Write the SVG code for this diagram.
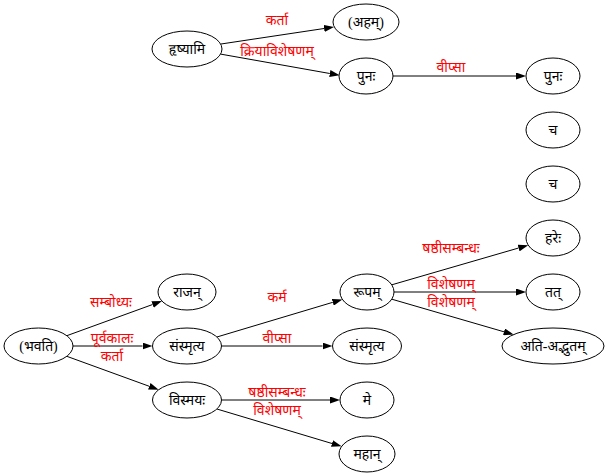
<svg xmlns="http://www.w3.org/2000/svg" width="608" height="476" viewBox="0 0 608 476">
<defs>
<marker id="ah" viewBox="0 0 10 7" refX="0" refY="3.5" markerWidth="10" markerHeight="7" markerUnits="userSpaceOnUse" orient="auto">
<path d="M0,0 L10,3.5 L0,7 z" fill="#000"/>
</marker>
<style>
.n ellipse{fill:#fff;stroke:#000;stroke-width:1}
.n text{font-family:'Liberation Serif','Noto Sans Devanagari','Noto Sans',sans-serif;font-size:14px;fill:#000;text-anchor:middle}
#edges line{stroke:#000;stroke-width:1;marker-end:url(#ah)}
#edges text{font-family:'Liberation Serif','Noto Sans Devanagari','Noto Sans',sans-serif;font-size:14px;fill:#f00;text-anchor:middle}
</style>
</defs>
<rect width="608" height="476" fill="#fff"/>
<g id="edges">
<line x1="221" y1="44" x2="324.1" y2="28.5"/>
<text x="277" y="25">कर्ता</text>
<line x1="220.6" y1="54.1" x2="329.8" y2="73.5"/>
<text x="277" y="56">क्रियाविशेषणम्</text>
<line x1="393" y1="76" x2="516" y2="76"/>
<text x="451" y="72">वीप्सा</text>
<line x1="66.8" y1="335.7" x2="152.6" y2="304.5"/>
<text x="111" y="307">सम्बोध्यः</text>
<line x1="73" y1="346" x2="142.5" y2="346"/>
<text x="112" y="343">पूर्वकालः</text>
<line x1="66.8" y1="356.3" x2="149.3" y2="386.3"/>
<text x="112" y="361">कर्ता</text>
<line x1="216.9" y1="337" x2="332.8" y2="302.3"/>
<text x="277" y="302">कर्म</text>
<line x1="221.5" y1="346" x2="322.5" y2="346"/>
<text x="277" y="343">वीप्सा</text>
<line x1="221.5" y1="400" x2="330" y2="400"/>
<text x="277" y="397">षष्ठीसम्बन्धः</text>
<line x1="216.9" y1="409" x2="332" y2="443.5"/>
<text x="277" y="415">विशेषणम्</text>
<line x1="391.8" y1="284.8" x2="518.6" y2="248"/>
<text x="451" y="253">षष्ठीसम्बन्धः</text>
<line x1="394" y1="292" x2="516" y2="292"/>
<text x="451" y="289">विशेषणम्</text>
<line x1="391.8" y1="299.2" x2="504" y2="331.8"/>
<text x="451" y="307">विशेषणम्</text>
</g>
<g id="n_hrishyami" class="n"><ellipse cx="187" cy="49" rx="35" ry="18"/><text x="187" y="54">हृष्यामि</text></g>
<g id="n_aham" class="n"><ellipse cx="366" cy="22" rx="33" ry="18"/><text x="366" y="27">(अहम्)</text></g>
<g id="n_punah1" class="n"><ellipse cx="366" cy="76" rx="27" ry="18"/><text x="366" y="81">पुनः</text></g>
<g id="n_punah2" class="n"><ellipse cx="553" cy="76" rx="27" ry="18"/><text x="553" y="81">पुनः</text></g>
<g id="n_cha1" class="n"><ellipse cx="553" cy="130" rx="27" ry="18"/><text x="553" y="135">च</text></g>
<g id="n_cha2" class="n"><ellipse cx="553" cy="184" rx="27" ry="18"/><text x="553" y="189">च</text></g>
<g id="n_hareh" class="n"><ellipse cx="553" cy="238" rx="27" ry="18"/><text x="553" y="243">हरेः</text></g>
<g id="n_tat" class="n"><ellipse cx="553" cy="292" rx="27" ry="18"/><text x="553" y="297">तत्</text></g>
<g id="n_atiadbhutam" class="n"><ellipse cx="553" cy="346" rx="51" ry="18"/><text x="553" y="351">अति-अद्भुतम्</text></g>
<g id="n_rupam" class="n"><ellipse cx="367" cy="292" rx="27" ry="18"/><text x="367" y="297">रूपम्</text></g>
<g id="n_samsmritya2" class="n"><ellipse cx="367" cy="346" rx="34.5" ry="18"/><text x="367" y="351">संस्मृत्य</text></g>
<g id="n_me" class="n"><ellipse cx="367" cy="400" rx="27" ry="18"/><text x="367" y="405">मे</text></g>
<g id="n_mahan" class="n"><ellipse cx="367" cy="454" rx="28" ry="18"/><text x="367" y="459">महान्</text></g>
<g id="n_bhavati" class="n"><ellipse cx="38.5" cy="346" rx="34.5" ry="18"/><text x="38.5" y="351">(भवति)</text></g>
<g id="n_rajan" class="n"><ellipse cx="187" cy="292" rx="29" ry="18"/><text x="187" y="297">राजन्</text></g>
<g id="n_samsmritya1" class="n"><ellipse cx="187" cy="346" rx="34.5" ry="18"/><text x="187" y="351">संस्मृत्य</text></g>
<g id="n_vismayah" class="n"><ellipse cx="187" cy="400" rx="34.5" ry="18"/><text x="187" y="405">विस्मयः</text></g>
</svg>
